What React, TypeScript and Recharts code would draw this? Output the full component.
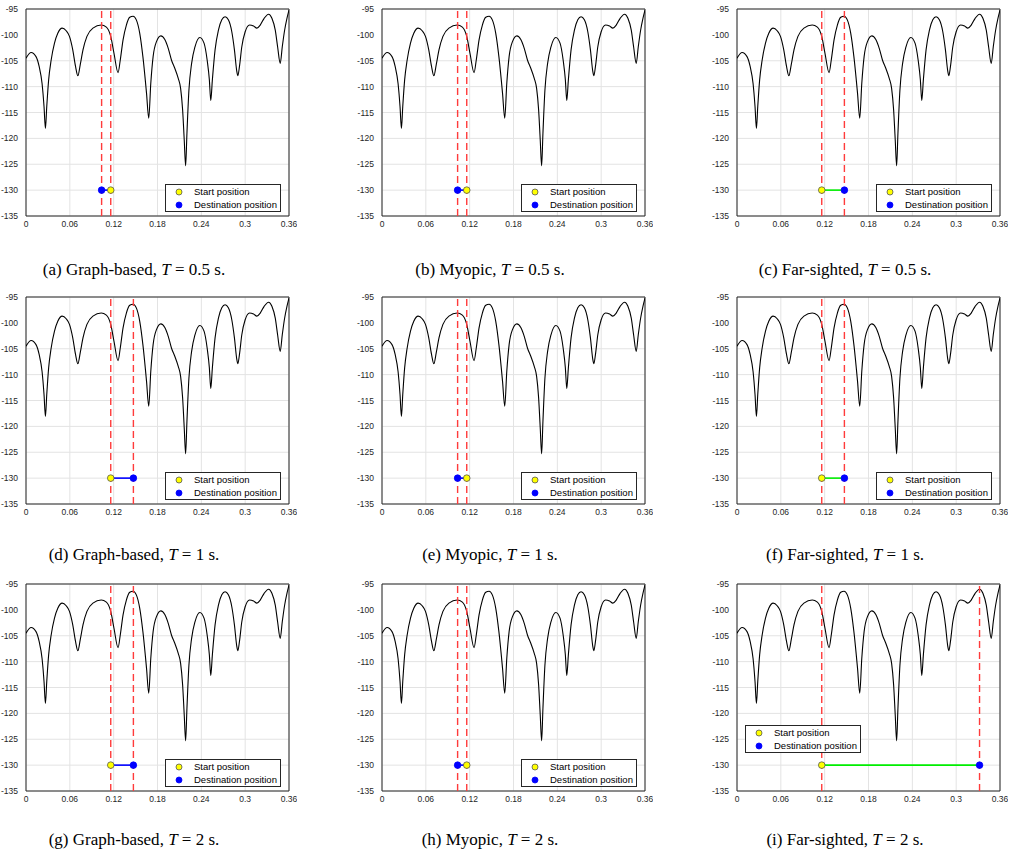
import React from 'react'
import { ComposedChart, Line, Scatter, XAxis, YAxis, CartesianGrid, ReferenceLine, ReferenceArea } from 'recharts'

// received signal along the track
const positionX = [
  0, 0.007, 0.0137, 0.018, 0.022, 0.0247, 0.0266, 0.0284, 0.031, 0.0344, 0.039, 0.0435, 0.0495, 0.055, 0.0595,
  0.064, 0.0678, 0.071, 0.0742, 0.078, 0.0834, 0.0916, 0.103, 0.11, 0.116, 0.1205, 0.126, 0.129, 0.1328, 0.1374,
  0.142, 0.1466, 0.151, 0.1557, 0.16, 0.165, 0.168, 0.1708, 0.174, 0.1786, 0.1846, 0.19, 0.1947, 0.1992, 0.2038,
  0.2084, 0.2116, 0.2144, 0.2166, 0.2185, 0.2203, 0.223, 0.2267, 0.2313, 0.238, 0.2437, 0.248, 0.251, 0.2529,
  0.2551, 0.2588, 0.2634, 0.268, 0.2725, 0.277, 0.2817, 0.2853, 0.2886, 0.29, 0.2922, 0.2954, 0.3, 0.306, 0.3115,
  0.316, 0.3206, 0.326, 0.332, 0.3366, 0.3412, 0.3444, 0.348, 0.3508, 0.354, 0.3572, 0.36,
]
const signalDbm = [
  -104.5, -103.4, -104.2, -106.1, -109.4, -113.9, -118.1, -113.9, -108.7, -104.9, -101.6, -99.7, -98.7, -99.2, -100.3,
  -102.9, -106.1, -107.9, -105.8, -102.9, -100.3, -98.7, -98.1, -98.5, -100.3, -103.6, -107.3, -104.9, -101.0, -98.1,
  -96.6, -96.4, -97.1, -99.7, -104.2, -111.3, -116.1, -109.4, -104.2, -101.3, -100.2, -100.9, -102.6, -104.9, -106.5,
  -108.4, -110.3, -114.5, -120.3, -125.3, -119.0, -110.7, -105.5, -102.3, -100.5, -101.6, -104.9, -108.7, -112.7,
  -108.7, -102.9, -99.1, -97.1, -96.5, -97.1, -99.4, -102.9, -107.1, -107.9, -106.1, -102.3, -99.4, -98.1, -98.3,
  -98.7, -98.1, -96.8, -96.0, -96.8, -99.1, -102.3, -105.5, -102.3, -99.1, -96.8, -95.2,
]

const xTicks = [0, 0.06, 0.12, 0.18, 0.24, 0.3, 0.36]
const yTicks = [-135, -130, -125, -120, -115, -110, -105, -100, -95]

const letters = ['a', 'b', 'c', 'd', 'e', 'f', 'g', 'h', 'i']
const methods = ['Graph-based', 'Myopic', 'Far-sighted']
const horizons = ['0.5', '1', '2']
const startPos = [0.116, 0.116, 0.116, 0.116, 0.116, 0.116, 0.116, 0.116, 0.116]
const destPos = [0.1035, 0.1035, 0.147, 0.147, 0.1035, 0.147, 0.147, 0.1035, 0.332]
const markerLevel = -130

const curve = positionX.map((x, i) => ({ x, y: signalDbm[i] }))

const PLOT_W = 263
const PLOT_H = 207
const Y_AXIS_W = 30
const TOP = 5
const RIGHT = 8
const X_AXIS_H = 22
const colLeft = [26, 382, 737]
const rowTop = [9, 297, 584]
const captionTop = [260, 545, 830]

const sans = '"Liberation Sans", Arial, Helvetica, sans-serif'
const tickStyle = { fontSize: 8.5, fill: '#262626', fontFamily: sans }

function LegendBox({ style }: { style: React.CSSProperties }) {
  const row = (fill: string, stroke: string, label: string) => (
    <div style={{ display: 'flex', alignItems: 'center', height: 13 }}>
      <svg width={28} height={10} style={{ flex: 'none' }}>
        <circle cx={13} cy={5} r={3} fill={fill} stroke={stroke} strokeWidth={0.8} />
      </svg>
      <span>{label}</span>
    </div>
  )
  return (
    <div
      style={{
        position: 'absolute',
        width: 114,
        height: 26,
        padding: '0',
        border: '1px solid #262626',
        background: '#fff',
        fontFamily: sans,
        fontSize: 9.5,
        color: '#000',
        lineHeight: '13px',
        whiteSpace: 'nowrap',
        ...style,
      }}
    >
      {row('#ffff00', '#555', 'Start position')}
      {row('#0000ff', '#0000ff', 'Destination position')}
    </div>
  )
}

function Panel({ idx }: { idx: number }) {
  const col = idx % 3
  const row = Math.floor(idx / 3)
  const left = colLeft[col]
  const top = rowTop[row]
  const start = startPos[idx]
  const dest = destPos[idx]
  const linkColor = col === 2 ? '#00ee00' : '#0000ff'
  const link = [
    { x: Math.min(start, dest), y: markerLevel },
    { x: Math.max(start, dest), y: markerLevel },
  ]
  const legendStyle: React.CSSProperties =
    idx === 8
      ? { left: left + 8, top: top + 141 }
      : { left: left + PLOT_W - 8 - 116, top: top + PLOT_H - 4 - 28 }

  return (
    <>
      <div style={{ position: 'absolute', left: left - Y_AXIS_W, top: top - TOP }}>
        <ComposedChart
          width={Y_AXIS_W + PLOT_W + RIGHT}
          height={TOP + PLOT_H + X_AXIS_H}
          margin={{ top: TOP, right: RIGHT, left: 0, bottom: 0 }}
        >
          <CartesianGrid
            stroke="#e3e3e3"
            horizontalValues={yTicks}
            verticalValues={xTicks}
          />
          <XAxis
            type="number"
            dataKey="x"
            domain={[0, 0.36]}
            ticks={xTicks}
            tick={tickStyle}
            tickLine={false}
            axisLine={false}
            tickSize={3}
            height={X_AXIS_H}
            allowDataOverflow
          />
          <YAxis
            type="number"
            dataKey="y"
            domain={[-135, -95]}
            ticks={yTicks}
            tick={tickStyle}
            tickLine={false}
            axisLine={false}
            width={Y_AXIS_W}
            allowDataOverflow
          />
          <ReferenceArea x1={0} x2={0.36} y1={-135} y2={-95} fill="none" fillOpacity={0} stroke="#262626" strokeWidth={1} />
          <Line
            data={curve}
            dataKey="y"
            type="monotone"
            stroke="#000"
            strokeWidth={1.1}
            dot={false}
            isAnimationActive={false}
          />
          <ReferenceLine x={start} stroke="#ff3b3b" strokeWidth={1.4} strokeDasharray="7 4" />
          <ReferenceLine x={dest} stroke="#ff3b3b" strokeWidth={1.4} strokeDasharray="7 4" />
          <Line
            data={link}
            dataKey="y"
            type="linear"
            stroke={linkColor}
            strokeWidth={1.6}
            dot={false}
            isAnimationActive={false}
          />
          <Scatter
            name="Start position"
            data={[{ x: start, y: markerLevel }]}
            dataKey="y"
            isAnimationActive={false}
            shape={(p: any) => <circle cx={p.cx} cy={p.cy} r={3.3} fill="#ffff00" stroke="#555" strokeWidth={0.8} />}
          />
          <Scatter
            name="Destination position"
            data={[{ x: dest, y: markerLevel }]}
            dataKey="y"
            isAnimationActive={false}
            shape={(p: any) => <circle cx={p.cx} cy={p.cy} r={3.3} fill="#0000ff" stroke="#0000ff" strokeWidth={0.8} />}
          />
        </ComposedChart>
      </div>
      <LegendBox style={legendStyle} />
      <div
        style={{
          position: 'absolute',
          left: left + 108 - 150,
          width: 300,
          top: captionTop[row],
          textAlign: 'center',
          fontFamily: '"Liberation Serif", "Times New Roman", serif',
          fontSize: 17,
          lineHeight: '20px',
          color: '#000',
          whiteSpace: 'nowrap',
        }}
      >
        ({letters[idx]}) {methods[col]}, <i>T</i> = {horizons[row]} s.
      </div>
    </>
  )
}

export default function App() {
  return (
    <div style={{ position: 'absolute', left: 0, top: 0, width: 1021, height: 855, background: '#fff', overflow: 'hidden' }}>
      {letters.map((_, i) => (
        <Panel key={i} idx={i} />
      ))}
    </div>
  )
}
